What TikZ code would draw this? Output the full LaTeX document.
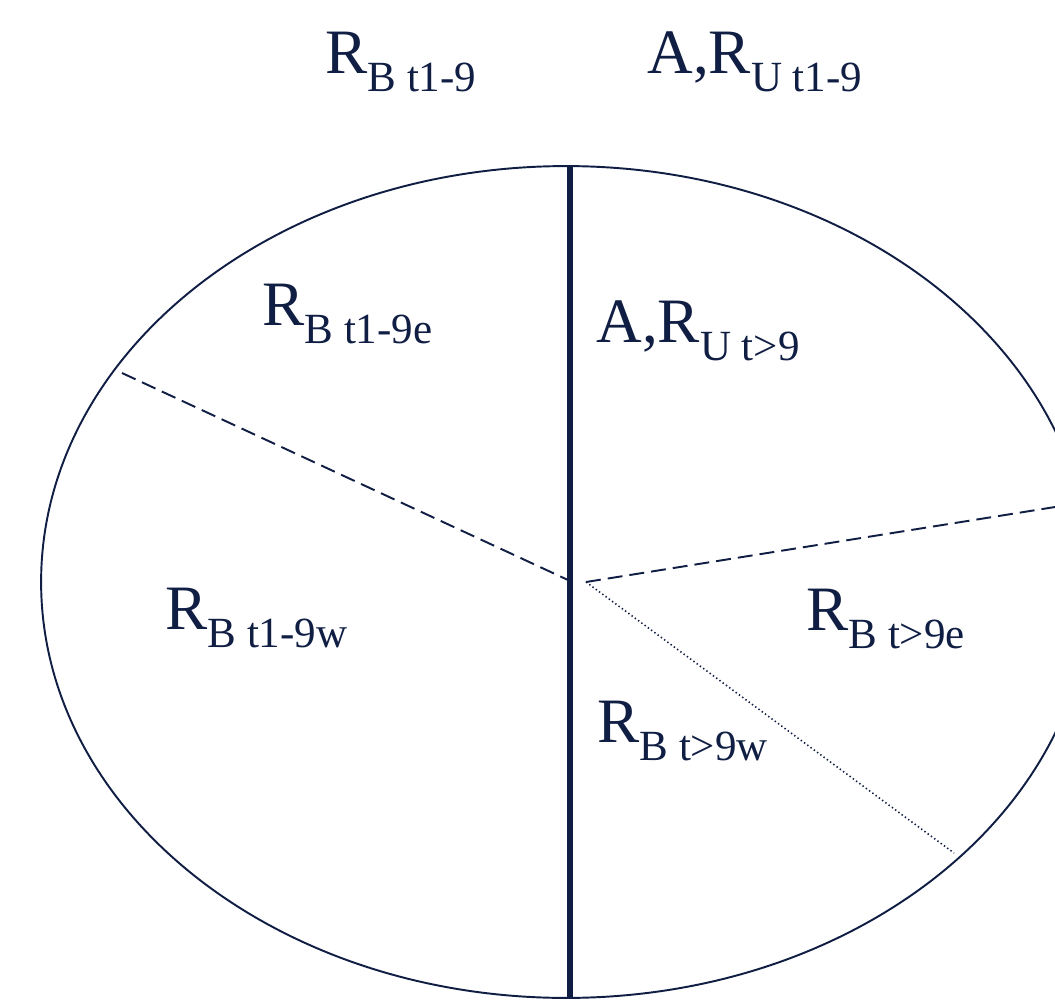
\documentclass[tikz,border=0pt]{standalone}
\usepackage{fontspec}
\setmainfont{Liberation Serif}
\usepackage{xcolor}
\usepackage{tikz}
\usetikzlibrary{positioning}

\definecolor{navy}{RGB}{16,30,68}
\newcommand{\rsub}[2]{#1\raisebox{-10.8pt}{\fontsize{24.5}{25}\selectfont #2}}

\begin{document}
\begin{tikzpicture}[
    x=0.02cm, y=-0.02cm,
    rim/.style={draw=navy, line width=1.1pt},
    divider/.style={draw=navy, line width=3pt},
    split/.style={draw=navy, line width=1.1pt, dash pattern=on 8.5pt off 4pt},
    dotsplit/.style={draw=navy, line width=0.9pt, dash pattern=on 0.8pt off 1.5pt},
    region/.style={anchor=base west, inner sep=0pt, text=navy, font=\fontsize{36}{40}\selectfont},
]
\useasboundingbox (0,0) rectangle (1055,1001);
\clip (0,0) rectangle (1055,1001);

% outline
\draw[rim] (566,582) ellipse [x radius=10.5cm, y radius=8.32cm];

% points on the outline and the hub
\coordinate (top) at (570,166);
\coordinate (bot) at (570,998);
\coordinate (hubW) at (568,580);
\coordinate (hubE) at (586,582);
\coordinate (westend) at (122,373);
\coordinate (eastend) at (1080,503);
\coordinate (southend) at (954,853);

\draw[divider] (top) -- (bot);
\draw[split] (westend) -- (hubW);
\draw[split] (hubE) -- (eastend);
\draw[dotsplit] (hubE) -- (southend);

% labels
\node[region] (outB) at (325,73) {\rsub{R}{B t1-9}};
\node[region] (outU) at (647,73) {\rsub{A,R}{U t1-9}};
\node[region] (inBe) at (262,325) {\rsub{R}{B t1-9e}};
\node[region] (inU) at (596,342) {\rsub{A,R}{U t>9}};
\node[region] (inBw) at (165,629) {\rsub{R}{B t1-9w}};
\node[region] (lateE) at (806,630) {\rsub{R}{B t>9e}};
\node[region] (lateW) at (597,742) {\rsub{R}{B t>9w}};

\end{tikzpicture}
\end{document}
